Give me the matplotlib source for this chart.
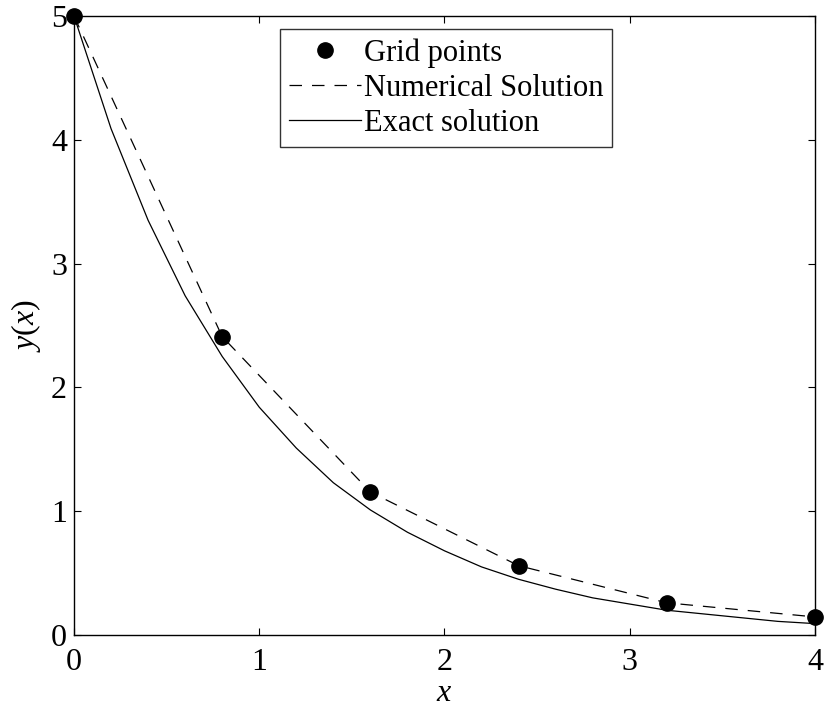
import matplotlib
matplotlib.use("Agg")
import matplotlib.pyplot as plt

# Grid points (numerical solution)
x_grid = [0.0, 0.8, 1.6, 2.4, 3.2, 4.0]
y_grid = [5.0, 2.41, 1.155, 0.56, 0.26, 0.146]

# Exact solution
x_exact = [0.0, 0.2, 0.4, 0.6, 0.8, 1.0, 1.2, 1.4, 1.6, 1.8, 2.0,
           2.2, 2.4, 2.6, 2.8, 3.0, 3.2, 3.4, 3.6, 3.8, 4.0]
y_exact = [5.0, 4.09, 3.35, 2.74, 2.25, 1.84, 1.51, 1.23, 1.01, 0.83, 0.68,
           0.55, 0.45, 0.37, 0.30, 0.25, 0.20, 0.17, 0.14, 0.11, 0.092]

xticks = [0, 1, 2, 3, 4]
yticks = [0, 1, 2, 3, 4, 5]

plt.rcParams['font.family'] = ['Liberation Serif', 'DejaVu Serif']
plt.rcParams['mathtext.fontset'] = 'custom'
plt.rcParams['mathtext.it'] = 'Liberation Serif:italic'
plt.rcParams['mathtext.rm'] = 'Liberation Serif'

fig = plt.figure(figsize=(8.28, 7.09), dpi=100)
ax = fig.add_axes([74/828, 1-635/709, (815-74)/828, (635-16)/709])

ax.plot(x_grid, y_grid, 'o', color='black', markersize=11, label='Grid points',
        zorder=3, clip_on=False)
ax.plot(x_grid, y_grid, color='black', linestyle=(0, (10, 8)), linewidth=0.9,
        label='Numerical Solution')
ax.plot(x_exact, y_exact, color='black', linestyle='-', linewidth=0.9,
        label='Exact solution')

ax.set_xlim(0, 4)
ax.set_ylim(0, 5)
ax.set_xticks(xticks)
ax.set_yticks(yticks)
ax.tick_params(direction='in', length=5, width=0.8, labelsize=23,
               top=True, right=True)
ax.tick_params(axis='x', pad=9)
ax.tick_params(axis='y', pad=5)
for s in ax.spines.values():
    s.set_linewidth(1.0)

ax.set_xlabel('$x$', fontsize=23, labelpad=2)
ax.set_ylabel('$y(x)$', fontsize=23, labelpad=6)

leg = ax.legend(loc='upper center', bbox_to_anchor=(0.502, 0.979), fontsize=22,
                frameon=True, fancybox=False, edgecolor='black',
                handlelength=2.35, handletextpad=0.1, borderpad=0.3,
                labelspacing=0.2, borderaxespad=0.0)
leg.get_frame().set_linewidth(1.0)

fig.savefig('out.png', dpi=100)
